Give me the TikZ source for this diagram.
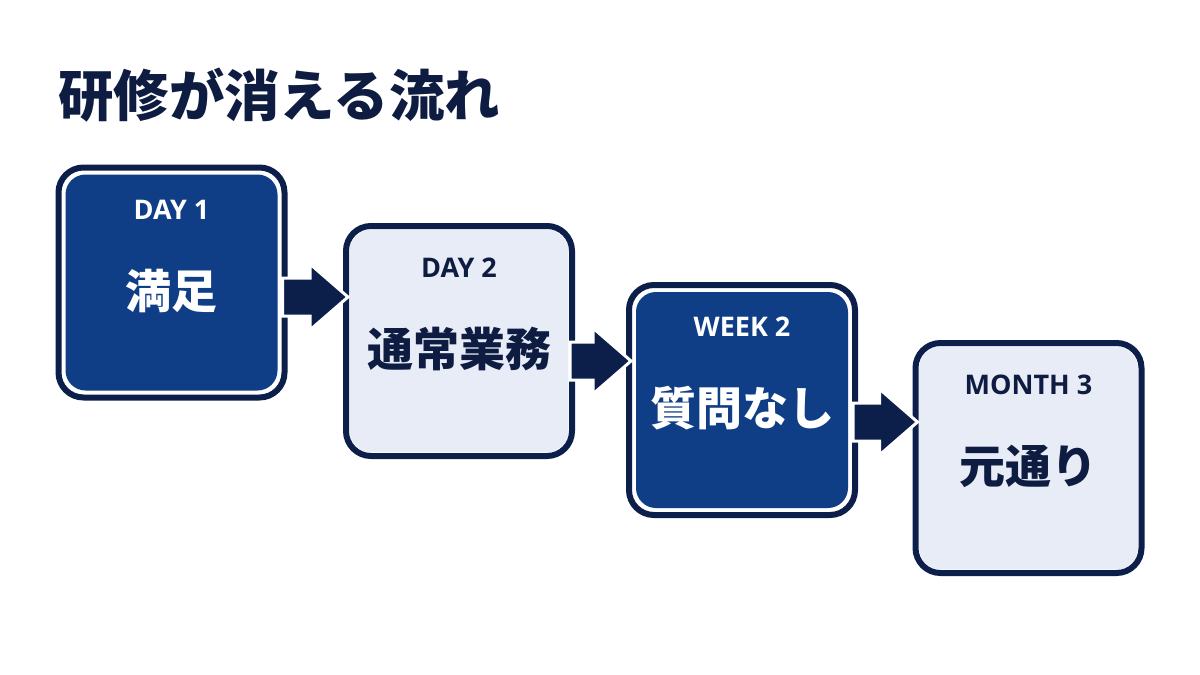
\documentclass[tikz,border=0pt]{standalone}
\usepackage{fontspec}
\setmainfont{Noto Sans CJK JP}
\newfontfamily\tagfont{Open Sans}
\usetikzlibrary{calc}

\definecolor{navy}{HTML}{0C1E4A}
\definecolor{deepblue}{HTML}{0F3E86}
\definecolor{paleblue}{HTML}{E8ECF7}
\definecolor{inkblue}{HTML}{0E1C42}

\begin{document}
\begin{tikzpicture}[x=0.5pt, y=-0.5pt,
  box/.style={draw=navy, line width=3pt, fill=white, rounded corners=12.5pt,
    minimum width=113pt, minimum height=115pt, inner sep=0pt},
  darkbox/.style={box, path picture={\fill[deepblue, rounded corners=10pt]
    ([shift={(3.5pt,-3.5pt)}]path picture bounding box.north west) rectangle
    ([shift={(-3.5pt,3.5pt)}]path picture bounding box.south east);}},
  lightbox/.style={box, path picture={\fill[paleblue, rounded corners=11pt]
    ([shift={(1.8pt,-1.8pt)}]path picture bounding box.north west) rectangle
    ([shift={(-1.8pt,1.8pt)}]path picture bounding box.south east);}},
  tag/.style={font=\tagfont\bfseries\fontsize{13.5}{15}\selectfont, inner sep=0pt},
  word/.style={font=\bfseries\fontsize{23}{27}\selectfont, inner sep=0pt}]

\useasboundingbox[fill=white] (0,0) rectangle (1200,675);

% ---------- TITLE ----------
\node[anchor=west, inner sep=0pt, text=inkblue,
  font=\bfseries\fontsize{27.7}{32}\selectfont] (title) at (58,95) {研修が消える流れ};

% ---------- STAGES ----------
\node[darkbox] (d1) at (171.5,282.5) {};
\node[tag, text=white] (d1tag) at ([yshift=36.5pt]d1.center) {DAY 1};
\node[word, text=white] (d1txt) at ([yshift=-4pt]d1.center) {満足};

\node[lightbox] (d2) at (459,341) {};
\node[tag, text=inkblue] (d2tag) at ([yshift=36.5pt]d2.center) {DAY 2};
\node[word, text=inkblue] (d2txt) at ([yshift=-4pt]d2.center) {通常業務};

\node[darkbox] (w2) at (742,400) {};
\node[tag, text=white] (w2tag) at ([yshift=36.5pt]w2.center) {WEEK 2};
\node[word, text=white] (w2txt) at ([yshift=-4pt]w2.center) {質問なし};

\node[lightbox] (m3) at (1028.5,458) {};
\node[tag, text=inkblue] (m3tag) at ([yshift=36.5pt]m3.center) {MONTH 3};
\node[word, text=inkblue] (m3txt) at ([yshift=-4pt]m3.center) {元通り};

% ---------- ARROWS ----------
\foreach \from/\to/\y in {d1/d2/297, d2/w2/361, w2/m3/422}{
  \coordinate (s) at ($(\from.east |- 0,\y)+(-5,0)$);
  \coordinate (t) at ($(\to.west |- 0,\y)+(5,0)$);
  \filldraw[fill=navy, draw=white, line width=1.5pt, line join=miter]
    ($(s)+(0,-19)$) -- ($(t)+(-38,-19)$) -- ($(t)+(-38,-33)$) -- (t)
    -- ($(t)+(-38,33)$) -- ($(t)+(-38,19)$) -- ($(s)+(0,19)$) -- cycle;
}

\end{tikzpicture}
\end{document}
